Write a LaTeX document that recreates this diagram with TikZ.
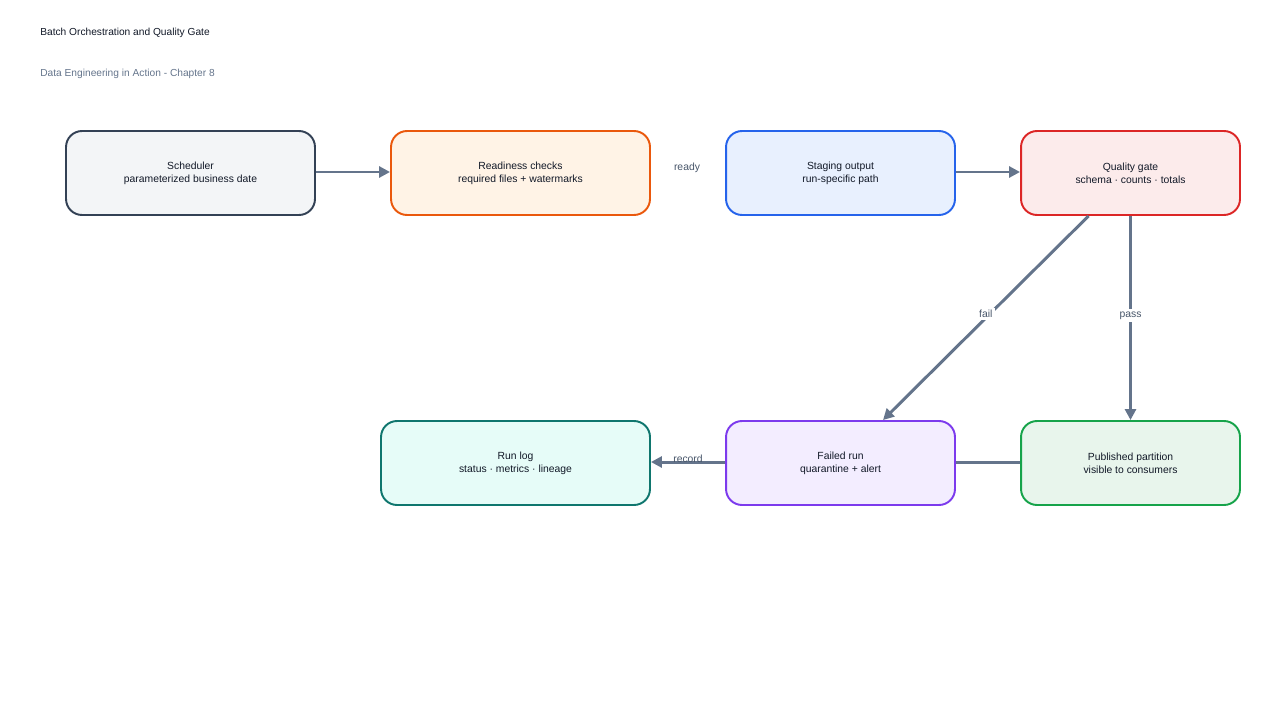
\documentclass[tikz,border=0pt]{standalone}
\usepackage{fontspec}
\setmainfont{Liberation Sans}
\usetikzlibrary{arrows.meta}

\definecolor{ink}{HTML}{111827}
\definecolor{subink}{HTML}{64748B}
\definecolor{edgeink}{HTML}{64748B}
\definecolor{lblink}{HTML}{475569}
\definecolor{schedD}{HTML}{334155}\definecolor{schedF}{HTML}{F3F5F7}
\definecolor{readyD}{HTML}{EA580C}\definecolor{readyF}{HTML}{FFF3E6}
\definecolor{stageD}{HTML}{2563EB}\definecolor{stageF}{HTML}{E8F0FE}
\definecolor{gateD}{HTML}{DC2626}\definecolor{gateF}{HTML}{FCEBEB}
\definecolor{logD}{HTML}{0F766E}\definecolor{logF}{HTML}{E6FCF8}
\definecolor{failD}{HTML}{7C3AED}\definecolor{failF}{HTML}{F3EDFF}
\definecolor{pubD}{HTML}{16A34A}\definecolor{pubF}{HTML}{E8F5EC}

\begin{document}
\begin{tikzpicture}[x=0.02cm,y=-0.02cm,
  box/.style={rounded corners=0.32cm,line width=1.1pt,align=center,inner sep=0pt,
    minimum height=1.68cm,text=ink,font=\fontsize{5.9}{7.4}\selectfont},
  flow/.style={draw=edgeink,line width=1.7pt,-{Triangle[length=2.2mm,width=2.2mm]}},
  lbl/.style={text=lblink,font=\fontsize{5.9}{7}\selectfont,inner sep=1.5pt}]
  \useasboundingbox (0,0) rectangle (1280,720);
  % --- titles ---
  \node[anchor=west,text=ink,font=\fontsize{5.8}{7}\selectfont,inner sep=0pt] (title) at (40,33) {Batch Orchestration and Quality Gate};
  \node[anchor=west,text=subink,font=\fontsize{5.8}{7}\selectfont,inner sep=0pt] (subtitle) at (40,74) {Data Engineering in Action - Chapter 8};
  % --- top row ---
  \node[box,draw=schedD,fill=schedF,minimum width=4.98cm] (sched) at (190.5,173) {Scheduler\\parameterized business date};
  \node[box,draw=readyD,fill=readyF,minimum width=5.18cm] (ready) at (520.5,173) {Readiness checks\\required files + watermarks};
  \node[box,draw=stageD,fill=stageF,minimum width=4.58cm] (stage) at (840.5,173) {Staging output\\run-specific path};
  \node[box,draw=gateD,fill=gateF,minimum width=4.38cm] (gate) at (1130.5,173) {Quality gate\\schema · counts · totals};
  % --- bottom row ---
  \node[box,draw=logD,fill=logF,minimum width=5.38cm] (runlog) at (515.5,463) {Run log\\status · metrics · lineage};
  \node[box,draw=failD,fill=failF,minimum width=4.58cm] (failed) at (840.5,463) {Failed run\\quarantine + alert};
  \node[box,draw=pubD,fill=pubF,minimum width=4.38cm] (pub) at (1130.5,463) {Published partition\\visible to consumers};
  % connectors
  \draw[flow] (sched.east) ++(0,-1) coordinate (s1) (s1) -- (s1 -| ready.west);
  \node[lbl] (readylbl) at (687,168) {ready};
  \draw[flow] (stage.east) ++(0,-1) coordinate (g1) (g1) -- (g1 -| gate.west);
  \draw[flow] ([xshift=-0.84cm]gate.south) -- node[lbl,fill=white,midway,yshift=0.08cm] (faillbl) {fail} ([xshift=0.85cm]failed.north);
  \draw[flow] (gate.south) -- node[lbl,fill=white,midway,yshift=0.05cm] (passlbl) {pass} (pub.north);
  \draw[draw=edgeink,line width=1.7pt] (pub.west) ++(0,-1) coordinate (p1) (p1) -- (p1 -| failed.east);
  \draw[flow] (failed.west) ++(0,-1) coordinate (f1) (f1) -- node[lbl,midway,yshift=0.06cm] (reclbl) {record} (f1 -| runlog.east);
\end{tikzpicture}
\end{document}
